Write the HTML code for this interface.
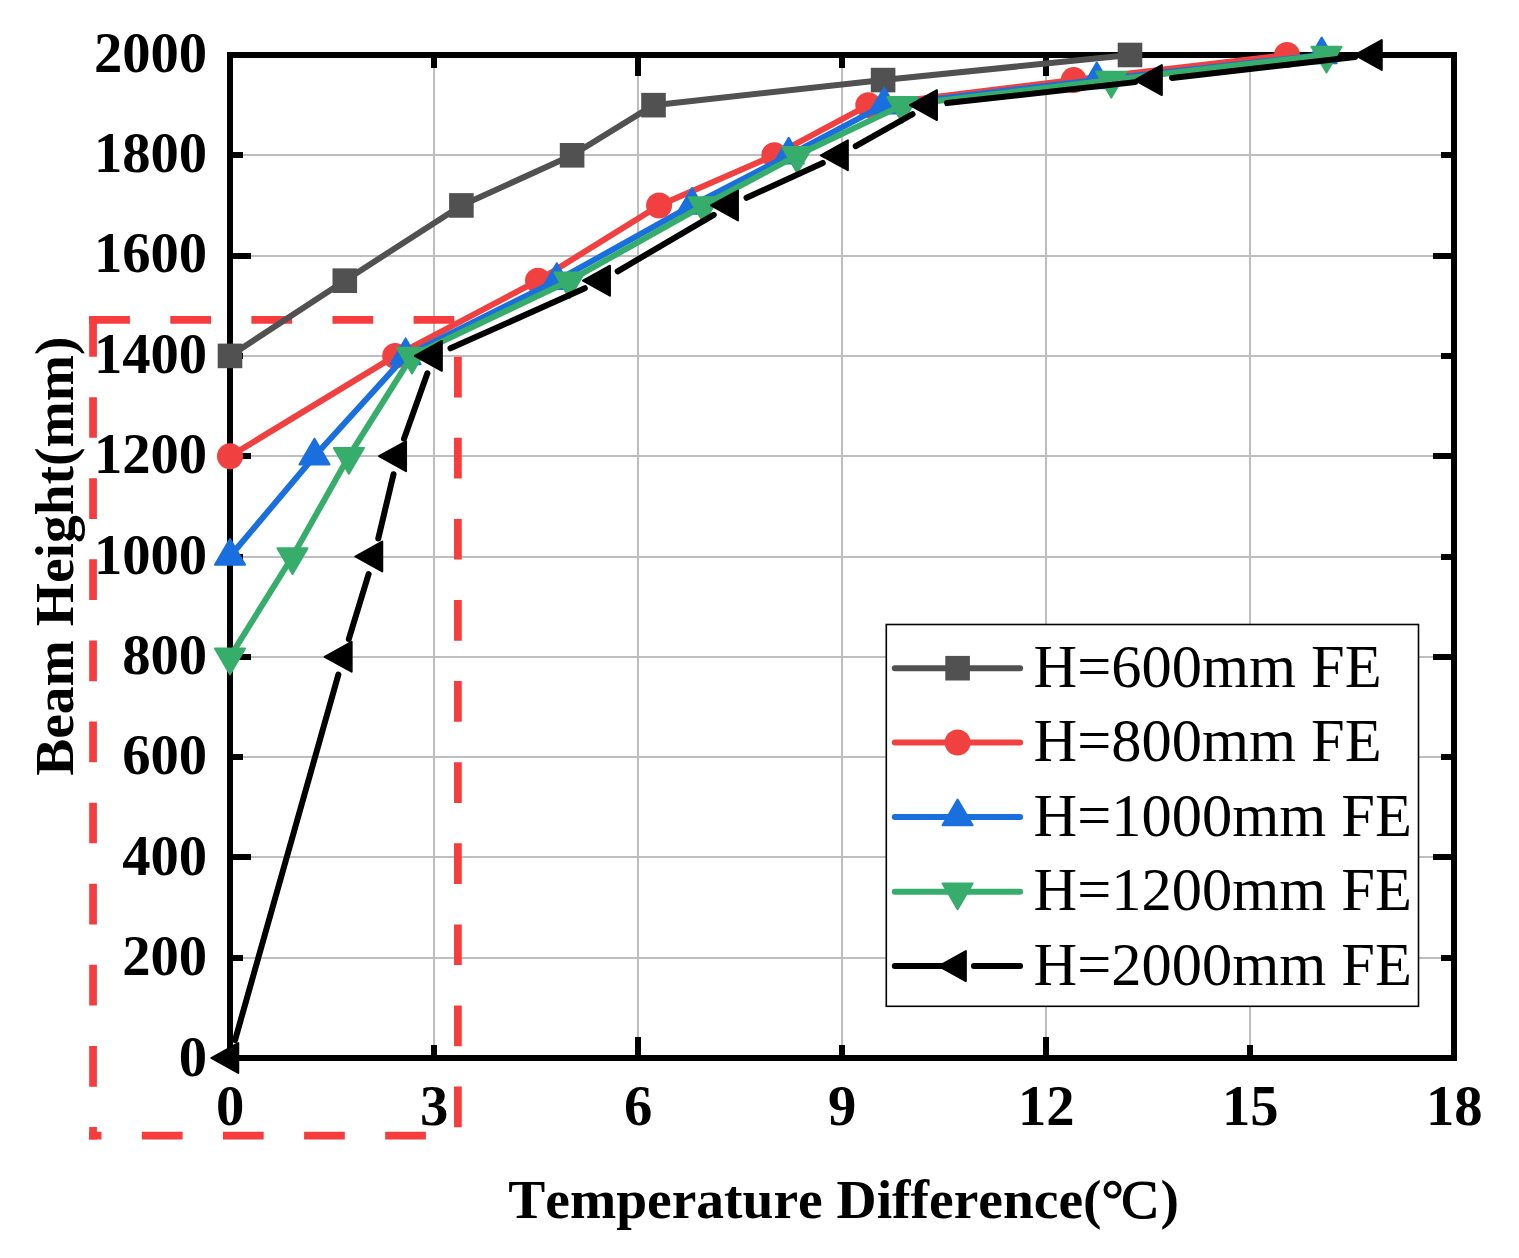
<!DOCTYPE html>
<html><head><meta charset="utf-8"><title>Beam Height vs Temperature Difference</title>
<style>
html,body{margin:0;padding:0;background:#fff;}
body{width:1519px;height:1258px;overflow:hidden;}
svg{display:block;}
text{font-family:"Liberation Serif","Times New Roman",serif;fill:#000;font-kerning:none;font-variant-ligatures:none;}
.tk{font-weight:bold;font-size:55.56px;}
.ti{font-weight:bold;font-size:55.5px;}
.ty{font-weight:bold;font-size:55.5px;}
.lg{font-size:60.45px;}
</style></head><body>
<svg width="1519" height="1258" viewBox="0 0 1519 1258">
<rect x="0" y="0" width="1519" height="1258" fill="#ffffff"/>
<g stroke="#bebebe" stroke-width="2" fill="none" shape-rendering="crispEdges">
<line x1="434.00" y1="55.0" x2="434.00" y2="1058.0"/>
<line x1="638.00" y1="55.0" x2="638.00" y2="1058.0"/>
<line x1="842.00" y1="55.0" x2="842.00" y2="1058.0"/>
<line x1="1046.00" y1="55.0" x2="1046.00" y2="1058.0"/>
<line x1="1250.00" y1="55.0" x2="1250.00" y2="1058.0"/>
<line x1="230.0" y1="957.70" x2="1454.0" y2="957.70"/>
<line x1="230.0" y1="857.40" x2="1454.0" y2="857.40"/>
<line x1="230.0" y1="757.10" x2="1454.0" y2="757.10"/>
<line x1="230.0" y1="656.80" x2="1454.0" y2="656.80"/>
<line x1="230.0" y1="556.50" x2="1454.0" y2="556.50"/>
<line x1="230.0" y1="456.20" x2="1454.0" y2="456.20"/>
<line x1="230.0" y1="355.90" x2="1454.0" y2="355.90"/>
<line x1="230.0" y1="255.60" x2="1454.0" y2="255.60"/>
<line x1="230.0" y1="155.30" x2="1454.0" y2="155.30"/>
</g>
<g stroke="#F63C3C" stroke-width="7.7" fill="none" stroke-linecap="square" stroke-dasharray="33 48.1">
<path d="M93.05,319.9 H457.9 V1135.7 H93.05"/>
<path d="M93.05,319.9 V1135.7"/>
</g>
<rect x="230.0" y="55.0" width="1224.0" height="1003.0" fill="none" stroke="#000" stroke-width="6"/>
<g stroke="#000" stroke-width="6" fill="none" shape-rendering="crispEdges">
<line x1="233.0" y1="957.70" x2="243.0" y2="957.70"/>
<line x1="1451.0" y1="957.70" x2="1441.0" y2="957.70"/>
<line x1="233.0" y1="857.40" x2="251.0" y2="857.40"/>
<line x1="1451.0" y1="857.40" x2="1433.0" y2="857.40"/>
<line x1="233.0" y1="757.10" x2="243.0" y2="757.10"/>
<line x1="1451.0" y1="757.10" x2="1441.0" y2="757.10"/>
<line x1="233.0" y1="656.80" x2="251.0" y2="656.80"/>
<line x1="1451.0" y1="656.80" x2="1433.0" y2="656.80"/>
<line x1="233.0" y1="556.50" x2="243.0" y2="556.50"/>
<line x1="1451.0" y1="556.50" x2="1441.0" y2="556.50"/>
<line x1="233.0" y1="456.20" x2="251.0" y2="456.20"/>
<line x1="1451.0" y1="456.20" x2="1433.0" y2="456.20"/>
<line x1="233.0" y1="355.90" x2="243.0" y2="355.90"/>
<line x1="1451.0" y1="355.90" x2="1441.0" y2="355.90"/>
<line x1="233.0" y1="255.60" x2="251.0" y2="255.60"/>
<line x1="1451.0" y1="255.60" x2="1433.0" y2="255.60"/>
<line x1="233.0" y1="155.30" x2="243.0" y2="155.30"/>
<line x1="1451.0" y1="155.30" x2="1441.0" y2="155.30"/>
<line x1="434.00" y1="1055.0" x2="434.00" y2="1045.0"/>
<line x1="434.00" y1="58.0" x2="434.00" y2="68.0"/>
<line x1="638.00" y1="1055.0" x2="638.00" y2="1037.0"/>
<line x1="638.00" y1="58.0" x2="638.00" y2="76.0"/>
<line x1="842.00" y1="1055.0" x2="842.00" y2="1045.0"/>
<line x1="842.00" y1="58.0" x2="842.00" y2="68.0"/>
<line x1="1046.00" y1="1055.0" x2="1046.00" y2="1037.0"/>
<line x1="1046.00" y1="58.0" x2="1046.00" y2="76.0"/>
<line x1="1250.00" y1="1055.0" x2="1250.00" y2="1045.0"/>
<line x1="1250.00" y1="58.0" x2="1250.00" y2="68.0"/>
</g>
<g>
<path d="M230.00,355.90 L344.80,280.68 L461.40,205.45 L572.10,155.30 L653.50,105.15 L883.10,80.08 L1130.00,55.00" fill="none" stroke="#515151" stroke-width="6" stroke-linejoin="round" stroke-linecap="round"/>
<rect x="217.70" y="343.60" width="24.60" height="24.60" fill="#515151"/>
<rect x="332.50" y="268.38" width="24.60" height="24.60" fill="#515151"/>
<rect x="449.10" y="193.15" width="24.60" height="24.60" fill="#515151"/>
<rect x="559.80" y="143.00" width="24.60" height="24.60" fill="#515151"/>
<rect x="641.20" y="92.85" width="24.60" height="24.60" fill="#515151"/>
<rect x="870.80" y="67.78" width="24.60" height="24.60" fill="#515151"/>
<rect x="1117.70" y="42.70" width="24.60" height="24.60" fill="#515151"/>
</g>
<g>
<path d="M230.00,456.20 L395.20,355.90 L538.00,280.68 L659.10,205.45 L774.30,155.30 L868.30,105.15 L1073.70,80.08 L1287.00,55.00" fill="none" stroke="#F14040" stroke-width="6" stroke-linejoin="round" stroke-linecap="round"/>
<circle cx="230.00" cy="456.20" r="13" fill="#F14040"/>
<circle cx="395.20" cy="355.90" r="13" fill="#F14040"/>
<circle cx="538.00" cy="280.68" r="13" fill="#F14040"/>
<circle cx="659.10" cy="205.45" r="13" fill="#F14040"/>
<circle cx="774.30" cy="155.30" r="13" fill="#F14040"/>
<circle cx="868.30" cy="105.15" r="13" fill="#F14040"/>
<circle cx="1073.70" cy="80.08" r="13" fill="#F14040"/>
<circle cx="1287.00" cy="55.00" r="13" fill="#F14040"/>
</g>
<g>
<path d="M230.00,556.50 L314.50,456.20 L405.60,355.90 L556.80,280.68 L692.00,205.45 L788.70,155.30 L884.10,105.15 L1096.80,80.08 L1321.70,55.00" fill="none" stroke="#1A6FDF" stroke-width="6" stroke-linejoin="round" stroke-linecap="round"/>
<polygon points="230.00,539.00 245.05,564.75 214.95,564.75" fill="#1A6FDF" stroke="#1A6FDF" stroke-width="2.0" stroke-linejoin="round"/>
<polygon points="314.50,438.70 329.55,464.45 299.45,464.45" fill="#1A6FDF" stroke="#1A6FDF" stroke-width="2.0" stroke-linejoin="round"/>
<polygon points="405.60,338.40 420.65,364.15 390.55,364.15" fill="#1A6FDF" stroke="#1A6FDF" stroke-width="2.0" stroke-linejoin="round"/>
<polygon points="556.80,263.18 571.85,288.93 541.75,288.93" fill="#1A6FDF" stroke="#1A6FDF" stroke-width="2.0" stroke-linejoin="round"/>
<polygon points="692.00,187.95 707.05,213.70 676.95,213.70" fill="#1A6FDF" stroke="#1A6FDF" stroke-width="2.0" stroke-linejoin="round"/>
<polygon points="788.70,137.80 803.75,163.55 773.65,163.55" fill="#1A6FDF" stroke="#1A6FDF" stroke-width="2.0" stroke-linejoin="round"/>
<polygon points="884.10,87.65 899.15,113.40 869.05,113.40" fill="#1A6FDF" stroke="#1A6FDF" stroke-width="2.0" stroke-linejoin="round"/>
<polygon points="1096.80,62.58 1111.85,88.33 1081.75,88.33" fill="#1A6FDF" stroke="#1A6FDF" stroke-width="2.0" stroke-linejoin="round"/>
<polygon points="1321.70,37.50 1336.75,63.25 1306.65,63.25" fill="#1A6FDF" stroke="#1A6FDF" stroke-width="2.0" stroke-linejoin="round"/>
</g>
<g>
<path d="M230.00,656.80 L292.50,556.50 L348.90,456.20 L412.00,355.90 L569.50,280.68 L703.70,205.45 L797.20,155.30 L902.40,105.15 L1111.30,80.08 L1326.50,55.00" fill="none" stroke="#37AD6B" stroke-width="6" stroke-linejoin="round" stroke-linecap="round"/>
<polygon points="230.00,674.30 245.05,648.55 214.95,648.55" fill="#37AD6B" stroke="#37AD6B" stroke-width="2.0" stroke-linejoin="round"/>
<polygon points="292.50,574.00 307.55,548.25 277.45,548.25" fill="#37AD6B" stroke="#37AD6B" stroke-width="2.0" stroke-linejoin="round"/>
<polygon points="348.90,473.70 363.95,447.95 333.85,447.95" fill="#37AD6B" stroke="#37AD6B" stroke-width="2.0" stroke-linejoin="round"/>
<polygon points="412.00,373.40 427.05,347.65 396.95,347.65" fill="#37AD6B" stroke="#37AD6B" stroke-width="2.0" stroke-linejoin="round"/>
<polygon points="569.50,298.18 584.55,272.43 554.45,272.43" fill="#37AD6B" stroke="#37AD6B" stroke-width="2.0" stroke-linejoin="round"/>
<polygon points="703.70,222.95 718.75,197.20 688.65,197.20" fill="#37AD6B" stroke="#37AD6B" stroke-width="2.0" stroke-linejoin="round"/>
<polygon points="797.20,172.80 812.25,147.05 782.15,147.05" fill="#37AD6B" stroke="#37AD6B" stroke-width="2.0" stroke-linejoin="round"/>
<polygon points="902.40,122.65 917.45,96.90 887.35,96.90" fill="#37AD6B" stroke="#37AD6B" stroke-width="2.0" stroke-linejoin="round"/>
<polygon points="1111.30,97.58 1126.35,71.83 1096.25,71.83" fill="#37AD6B" stroke="#37AD6B" stroke-width="2.0" stroke-linejoin="round"/>
<polygon points="1326.50,72.50 1341.55,46.75 1311.45,46.75" fill="#37AD6B" stroke="#37AD6B" stroke-width="2.0" stroke-linejoin="round"/>
</g>
<g>
<path d="M235.03,1040.20 L338.37,674.60 M348.80,639.11 L368.60,574.19 M378.27,538.50 L393.53,474.20 M404.02,438.78 L427.38,373.32 M450.49,348.34 L584.81,288.23 M617.65,271.30 L713.75,214.82 M746.53,197.77 L822.77,162.98 M855.72,146.23 L912.58,114.22 M947.09,103.10 L1135.21,82.12 M1171.98,77.98 L1355.12,57.10" fill="none" stroke="#000000" stroke-width="6" stroke-linecap="round"/>
<polygon points="211.25,1058.00 238.25,1043.05 238.25,1072.95" fill="#000000" stroke="#000000" stroke-width="2.0" stroke-linejoin="round"/>
<polygon points="324.65,656.80 351.65,641.85 351.65,671.75" fill="#000000" stroke="#000000" stroke-width="2.0" stroke-linejoin="round"/>
<polygon points="355.25,556.50 382.25,541.55 382.25,571.45" fill="#000000" stroke="#000000" stroke-width="2.0" stroke-linejoin="round"/>
<polygon points="379.05,456.20 406.05,441.25 406.05,471.15" fill="#000000" stroke="#000000" stroke-width="2.0" stroke-linejoin="round"/>
<polygon points="414.85,355.90 441.85,340.95 441.85,370.85" fill="#000000" stroke="#000000" stroke-width="2.0" stroke-linejoin="round"/>
<polygon points="582.95,280.68 609.95,265.73 609.95,295.63" fill="#000000" stroke="#000000" stroke-width="2.0" stroke-linejoin="round"/>
<polygon points="710.95,205.45 737.95,190.50 737.95,220.40" fill="#000000" stroke="#000000" stroke-width="2.0" stroke-linejoin="round"/>
<polygon points="820.85,155.30 847.85,140.35 847.85,170.25" fill="#000000" stroke="#000000" stroke-width="2.0" stroke-linejoin="round"/>
<polygon points="909.95,105.15 936.95,90.20 936.95,120.10" fill="#000000" stroke="#000000" stroke-width="2.0" stroke-linejoin="round"/>
<polygon points="1134.85,80.08 1161.85,65.13 1161.85,95.03" fill="#000000" stroke="#000000" stroke-width="2.0" stroke-linejoin="round"/>
<polygon points="1354.75,55.00 1381.75,40.05 1381.75,69.95" fill="#000000" stroke="#000000" stroke-width="2.0" stroke-linejoin="round"/>
</g>
<rect x="886.3" y="624.5" width="532.2" height="381.8" fill="#fff" stroke="#000" stroke-width="1.6"/>
<line x1="894.8" y1="668.2" x2="1020.1" y2="668.2" stroke="#515151" stroke-width="6" stroke-linecap="round"/>
<rect x="945.30" y="655.90" width="24.60" height="24.60" fill="#515151"/>
<text class="lg" x="1033.6" y="686.7">H=600mm FE</text>
<line x1="894.8" y1="742.5" x2="1020.1" y2="742.5" stroke="#F14040" stroke-width="6" stroke-linecap="round"/>
<circle cx="957.60" cy="742.50" r="13" fill="#F14040"/>
<text class="lg" x="1033.6" y="761.0">H=800mm FE</text>
<line x1="894.8" y1="817.0" x2="1020.1" y2="817.0" stroke="#1A6FDF" stroke-width="6" stroke-linecap="round"/>
<polygon points="957.60,799.50 972.65,825.25 942.55,825.25" fill="#1A6FDF" stroke="#1A6FDF" stroke-width="2.0" stroke-linejoin="round"/>
<text class="lg" x="1033.6" y="835.5">H=1000mm FE</text>
<line x1="894.8" y1="891.7" x2="1020.1" y2="891.7" stroke="#37AD6B" stroke-width="6" stroke-linecap="round"/>
<polygon points="957.60,909.20 972.65,883.45 942.55,883.45" fill="#37AD6B" stroke="#37AD6B" stroke-width="2.0" stroke-linejoin="round"/>
<text class="lg" x="1033.6" y="910.2">H=1200mm FE</text>
<path d="M894.8,966.1 H941.3000000000001 M973.9,966.1 H1020.1" stroke="#000000" stroke-width="6" stroke-linecap="round" fill="none"/>
<polygon points="938.85,966.10 965.85,951.15 965.85,981.05" fill="#000000" stroke="#000000" stroke-width="2.0" stroke-linejoin="round"/>
<text class="lg" x="1033.6" y="984.6">H=2000mm FE</text>
<text class="tk" transform="translate(207.2,1075.6) scale(1.02,1.035)" text-anchor="end">0</text>
<text class="tk" transform="translate(207.2,975.2) scale(1.02,1.035)" text-anchor="end">200</text>
<text class="tk" transform="translate(207.2,874.8) scale(1.02,1.035)" text-anchor="end">400</text>
<text class="tk" transform="translate(207.2,774.4) scale(1.02,1.035)" text-anchor="end">600</text>
<text class="tk" transform="translate(207.2,674.0) scale(1.02,1.035)" text-anchor="end">800</text>
<text class="tk" transform="translate(207.2,573.5) scale(1.02,1.035)" text-anchor="end">1000</text>
<text class="tk" transform="translate(207.2,473.1) scale(1.02,1.035)" text-anchor="end">1200</text>
<text class="tk" transform="translate(207.2,372.7) scale(1.02,1.035)" text-anchor="end">1400</text>
<text class="tk" transform="translate(207.2,272.3) scale(1.02,1.035)" text-anchor="end">1600</text>
<text class="tk" transform="translate(207.2,171.9) scale(1.02,1.035)" text-anchor="end">1800</text>
<text class="tk" transform="translate(207.2,71.5) scale(1.02,1.035)" text-anchor="end">2000</text>
<text class="tk" transform="translate(230.2,1124.6) scale(1.02,1.035)" text-anchor="middle">0</text>
<text class="tk" transform="translate(434.2,1124.6) scale(1.02,1.035)" text-anchor="middle">3</text>
<text class="tk" transform="translate(638.2,1124.6) scale(1.02,1.035)" text-anchor="middle">6</text>
<text class="tk" transform="translate(842.2,1124.6) scale(1.02,1.035)" text-anchor="middle">9</text>
<text class="tk" transform="translate(1046.2,1124.6) scale(1.02,1.035)" text-anchor="middle">12</text>
<text class="tk" transform="translate(1250.2,1124.6) scale(1.02,1.035)" text-anchor="middle">15</text>
<text class="tk" transform="translate(1454.2,1124.6) scale(1.02,1.035)" text-anchor="middle">18</text>
<text class="ti" x="508.3" y="1217.9">Temperature Difference(<tspan font-weight="normal" stroke="#000" stroke-width="1.2"><tspan letter-spacing="-2.5">°</tspan>C</tspan><tspan dx="2.3">)</tspan></text>
<text class="ty" transform="translate(73,775.8) rotate(-90)" x="0" y="0">Beam Height(mm)</text>
</svg></body></html>
